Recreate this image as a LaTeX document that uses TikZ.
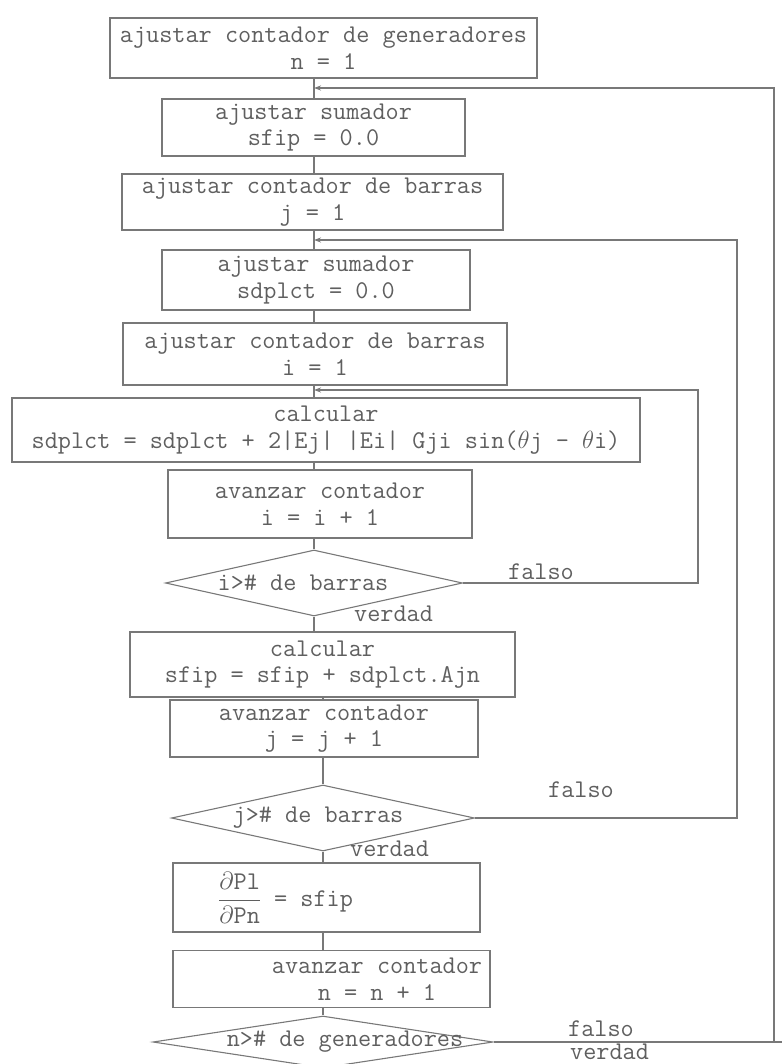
\documentclass[tikz,border=0pt]{standalone}
\usetikzlibrary{shapes.geometric,arrows.meta}
\definecolor{ink}{RGB}{95,95,95}
\definecolor{rule}{RGB}{120,120,120}
\begin{document}
\begin{tikzpicture}[x=1pt,y=-1pt,
  every node/.style={text=ink, font=\ttfamily\fontsize{25.5}{26.5}\selectfont},
  box/.style={draw=rule, line width=1.1pt, rectangle, inner sep=0pt, align=center},
  decision/.style={draw=rule, line width=1.1pt, diamond, inner sep=0pt},
  flow/.style={draw=rule, line width=1.1pt},
  back/.style={flow, -{Stealth[length=7pt,width=5pt]}},
  tag/.style={inner sep=0pt, anchor=base west},
  plain/.style={inner sep=0pt, align=center}]
\useasboundingbox (0,0) rectangle (782,1064);

% spine x positions
\coordinate (cu) at (314,0);
\coordinate (cl) at (323,0);

% process boxes and decisions
\node[box, minimum width=427, minimum height=60] (b1) at (323.5,48) {ajustar contador de generadores\\n = 1};
\node[box, minimum width=303, minimum height=57] (b2) at (313.5,127.5) {ajustar sumador\\sfip = 0.0};
\node[box, minimum width=381, minimum height=56] (b3) at (312.5,202) {ajustar contador de barras\\j = 1};
\node[box, minimum width=308, minimum height=60] (b4) at (316,280) {ajustar sumador\\sdplct = 0.0};
\node[box, minimum width=384, minimum height=62] (b5) at (315,354) {ajustar contador de barras\\i = 1};
\node[box, minimum width=628, minimum height=64] (b6) at (326,430) {calcular\\sdplct = sdplct + 2|Ej| |Ei| Gji sin($\theta$j - $\theta$i)};
\node[box, minimum width=304, minimum height=68] (b7) at (320,504) {avanzar contador\\i = i + 1};
\node[decision, minimum width=297, minimum height=66] (d1) at (314,583) {};
\node[plain] (t1) at (303,583) {i>\# de barras};
\node[box, minimum width=385, minimum height=65] (b8) at (322.5,664.5) {calcular\\sfip = sfip + sdplct.Ajn};
\node[box, minimum width=308, minimum height=57] (b9) at (324,728.5) {avanzar contador\\j = j + 1};
\node[decision, minimum width=303, minimum height=66] (d2) at (323,818) {};
\node[plain] (t2) at (318,818) {j>\# de barras};
\node[box, minimum width=307, minimum height=69] (b10) at (326.5,897.5) {};
\node[inner sep=0pt, anchor=west] (t10) at (218,897.5) {$\displaystyle\frac{\partial\texttt{Pl}}{\partial\texttt{Pn}}$ = sfip};
\node[box, minimum width=317, minimum height=57] (b11) at (331.5,979) {};
\node[plain] (t11) at (377,979) {avanzar contador\\n = n + 1};
\node[decision, minimum width=340, minimum height=52] (d3) at (323,1042) {};
\node[plain] (t3) at (345,1042) {n>\# de generadores};

% branch labels
\node[tag] (f1) at (508,579) {falso};
\node[tag] (v1) at (354,621) {verdad};
\node[tag] (f2) at (548,797) {falso};
\node[tag] (v2) at (350,856) {verdad};
\node[tag] (f3) at (568,1036) {falso};
\node[tag] (v3) at (570,1059) {verdad};

% forward connectors
\draw[flow] (b1.south -| cu) -- (b2.north -| cu);
\draw[flow] (b2.south -| cu) -- (b3.north -| cu);
\draw[flow] (b3.south -| cu) -- (b4.north -| cu);
\draw[flow] (b4.south -| cu) -- (b5.north -| cu);
\draw[flow] (b5.south -| cu) -- (b6.north -| cu);
\draw[flow] (b6.south -| cu) -- (b7.north -| cu);
\draw[flow] (b7.south -| d1.north) -- (d1.north);
\draw[flow] (d1.south) -- (b8.north -| d1.south);
\draw[flow] (b8.south -| cl) -- (b9.north -| cl);
\draw[flow] (b9.south -| cl) -- (d2.north);
\draw[flow] (d2.south) -- (b10.north -| cl);
\draw[flow] (b10.south -| cl) -- (b11.north -| cl);
\draw[flow] (b11.south -| cl) -- (d3.north);

% loop returns
\coordinate (iloop) at (698,390);
\coordinate (iin) at (314,390);
\coordinate (jloop) at (737,240);
\coordinate (jin) at (314,240);
\coordinate (nloop) at (774,88);
\coordinate (nin) at (314,88);
\coordinate (rim) at (782,0);
\draw[back] (d1.east) -| (iloop) -- (iin);
\draw[back] (d2.east) -| (jloop) -- (jin);
\draw[back] (d3.east) -| (nloop) -- (nin);
\draw[flow] (d3.east -| nloop) -- (d3.east -| rim);
\end{tikzpicture}
\end{document}
